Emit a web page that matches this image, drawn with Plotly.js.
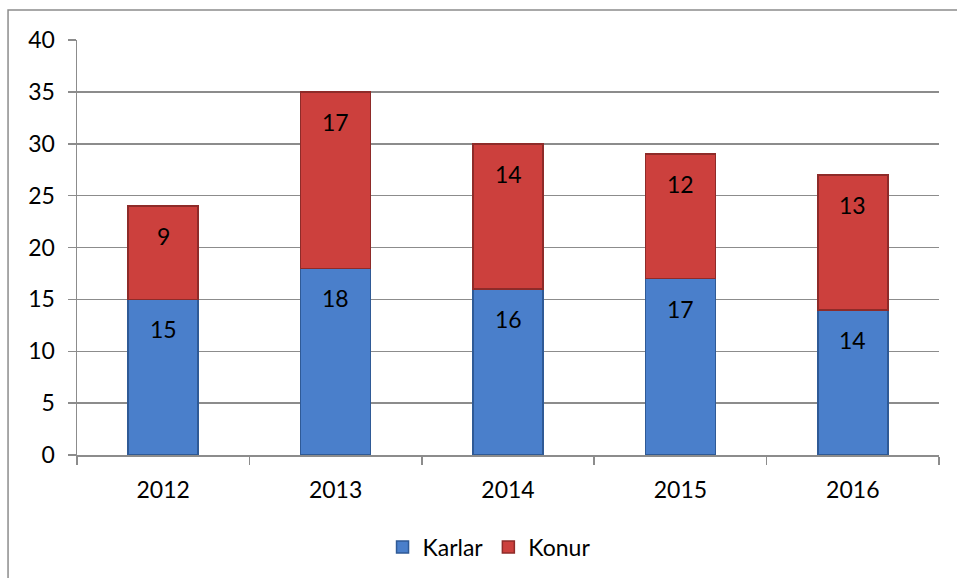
<!DOCTYPE html>
<html>
<head>
<meta charset="utf-8">
<script src="https://cdn.plot.ly/plotly-3.0.1.min.js"></script>
<style>html,body{margin:0;padding:0;background:#fff;}#chart{width:957px;height:578px;}</style>
</head>
<body>
<div id="chart"></div>
<script>
const years = ['2012', '2013', '2014', '2015', '2016'];
const karlar = [15, 18, 16, 17, 14];
const konur = [9, 17, 14, 12, 13];
const seriesNames = ['Karlar', 'Konur'];
const yTicks = [0, 5, 10, 15, 20, 25, 30, 35, 40];

const FONT = 'Lato, "Open Sans", sans-serif';
const blue = '#4a7fcb', blueLine = '#2f5a96';
const red = '#cc403d', redLine = '#8e2b29';

const traces = [
  {type: 'bar', name: seriesNames[0], x: years, y: karlar,
   marker: {color: blue, line: {color: blueLine, width: 1.5}}, hoverinfo: 'none'},
  {type: 'bar', name: seriesNames[1], x: years, y: konur,
   marker: {color: red, line: {color: redLine, width: 1.5}}, hoverinfo: 'none'}
];

const annotations = [];
years.forEach((yr, i) => {
  annotations.push({x: i, y: karlar[i], text: String(karlar[i]), showarrow: false,
    yanchor: 'top', yshift: -14, font: {family: FONT, size: 23, color: '#000'}});
  annotations.push({x: i, y: karlar[i] + konur[i], text: String(konur[i]), showarrow: false,
    yanchor: 'top', yshift: -14, font: {family: FONT, size: 23, color: '#000'}});
});

const layout = {
  width: 957, height: 578,
  margin: {l: 77, r: 18, t: 40, b: 123, autoexpand: false},
  paper_bgcolor: '#fff', plot_bgcolor: '#fff',
  barmode: 'stack', bargap: 0.594,
  font: {family: FONT, size: 23, color: '#000'},
  showlegend: true,
  legend: {orientation: 'h', x: 0.478, xanchor: 'center', y: -0.222, yanchor: 'middle',
    font: {family: FONT, size: 23, color: '#000'}, traceorder: 'normal', itemwidth: 30},
  xaxis: {type: 'category', range: [-0.5, years.length - 0.5], autorange: false,
    showgrid: false, showline: true, linecolor: '#8c8c8c', linewidth: 1.5,
    ticks: 'outside', tickson: 'boundaries', ticklen: 8, tickcolor: '#8c8c8c', tickwidth: 1.5,
    ticklabelstandoff: 14,
    tickangle: 0, tickfont: {family: FONT, size: 23, color: '#000'}, fixedrange: true},
  yaxis: {range: [0, 40], autorange: false, tickvals: yTicks, showgrid: true, gridcolor: '#8c8c8c', gridwidth: 1.5,
    showline: true, linecolor: '#8c8c8c', linewidth: 1.5, zeroline: false,
    ticks: 'outside', ticklen: 8, tickcolor: '#8c8c8c', tickwidth: 1.5, ticklabelstandoff: 8,
    tickfont: {family: FONT, size: 23, color: '#000'}, fixedrange: true},
  annotations: annotations,
  shapes: [{type: 'rect', xref: 'paper', yref: 'paper', x0: -0.080, x1: 1.03, y0: -0.32, y1: 1.0725,
    line: {color: '#8c8c8c', width: 1.5}, fillcolor: 'rgba(0,0,0,0)', layer: 'below'}]
};

Plotly.newPlot('chart', traces, layout, {displayModeBar: false, staticPlot: true});
</script>
</body>
</html>
